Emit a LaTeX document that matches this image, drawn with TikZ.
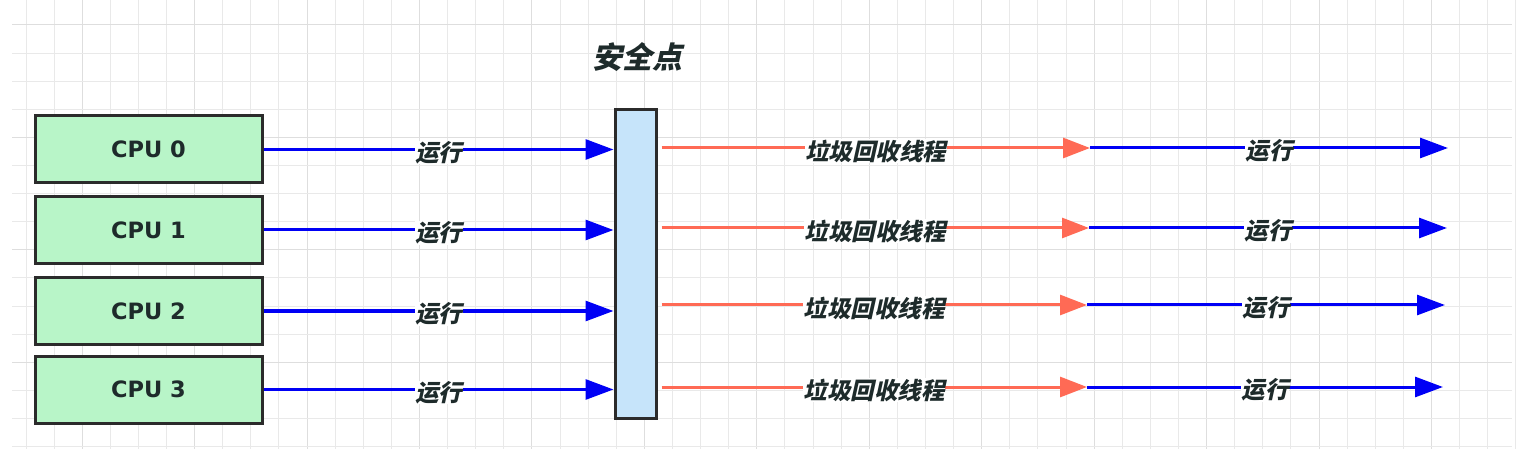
\documentclass[tikz,border=0pt]{standalone}
\usepackage{fontspec}
\usetikzlibrary{arrows.meta,calc}
\newfontfamily\cjk{Noto Sans CJK SC}[FakeSlant=0.22]
\newfontfamily\cpufont{DejaVu Sans}
\definecolor{gridminor}{HTML}{E9E9E9}
\definecolor{gridmajor}{HTML}{DEDEDE}
\definecolor{cpufill}{HTML}{B8F5C8}
\definecolor{barfill}{HTML}{C6E4FA}
\definecolor{edge}{HTML}{2B2B2B}
\definecolor{runblue}{HTML}{0000F5}
\definecolor{gcred}{HTML}{FF6A55}
\definecolor{txt}{HTML}{1E2B2B}
\begin{document}
\begin{tikzpicture}[x=1pt,y=-1pt,
  cpubox/.style={draw=edge,line width=3pt,fill=cpufill,minimum width=227pt,minimum height=67pt,inner sep=0pt,
    font=\cpufont\bfseries\fontsize{22.5}{26}\selectfont,text=txt},
  barbox/.style={draw=edge,line width=3pt,fill=barfill,minimum width=41pt,minimum height=308pt,inner sep=0pt},
  title/.style={font=\cjk\bfseries\fontsize{30}{34}\selectfont,text=txt},
  lbl/.style={font=\cjk\bfseries\fontsize{23.5}{26}\selectfont,text=txt,fill=white,inner sep=0.5pt,yshift=-3pt},
  runarrow/.style={draw=runblue,line width=3pt,-{Triangle[length=28pt,width=20pt]}},
  gcarrow/.style={draw=gcred,line width=3pt,-{Triangle[length=27pt,width=20pt]}}]
\useasboundingbox (0,0) rectangle (1527,449);
\fill[white] (0,0) rectangle (1527,449);
% grid
\foreach \k in {0,...,53}{
  \pgfmathsetmacro{\gx}{26+28.11*\k}
  \pgfmathtruncatemacro{\m}{mod(\k,4)}
  \ifnum\m=2 \draw[gridmajor,line width=1pt] (\gx,0) -- (\gx,449);
  \else \draw[gridminor,line width=1pt] (\gx,0) -- (\gx,449); \fi
}
\foreach \k in {0,...,15}{
  \pgfmathsetmacro{\gy}{25+28.11*\k}
  \pgfmathtruncatemacro{\m}{mod(\k,4)}
  \ifnum\m=0 \draw[gridmajor,line width=1pt] (12,\gy) -- (1512,\gy);
  \else \draw[gridminor,line width=1pt] (12,\gy) -- (1512,\gy); \fi
}
% nodes
\node[cpubox] (cpu0) at (148.5,149.5) {CPU 0};
\node[cpubox] (cpu1) at (148.5,230) {CPU 1};
\node[cpubox] (cpu2) at (148.5,311) {CPU 2};
\node[cpubox] (cpu3) at (148.5,389.5) {CPU 3};
\node[barbox] (bar) at (635.5,264) {};
\node[title] (safe) at (637,57) {安全点};
% coordinates
\coordinate (r0) at (1090,148);
\coordinate (r1) at (1089,228);
\coordinate (r2) at (1087,305);
\coordinate (r3) at (1087,387);
\coordinate (e0) at (1448,148);
\coordinate (e1) at (1447,228);
\coordinate (e2) at (1445,305);
\coordinate (e3) at (1443,387);
% arrows into the safe point
\foreach \i in {0,1,2,3}{
  \draw[runarrow] (cpu\i.east) -- node[lbl]{运行} (cpu\i.east -| bar.west);
}
% gc and run arrows
\foreach \i in {0,1,2,3}{
  \draw[gcarrow] ($(bar.east |- r\i)+(4,0)$) -- node[lbl]{垃圾回收线程} (r\i);
  \draw[runarrow] (r\i) -- node[lbl]{运行} (e\i);
}
\end{tikzpicture}
\end{document}
